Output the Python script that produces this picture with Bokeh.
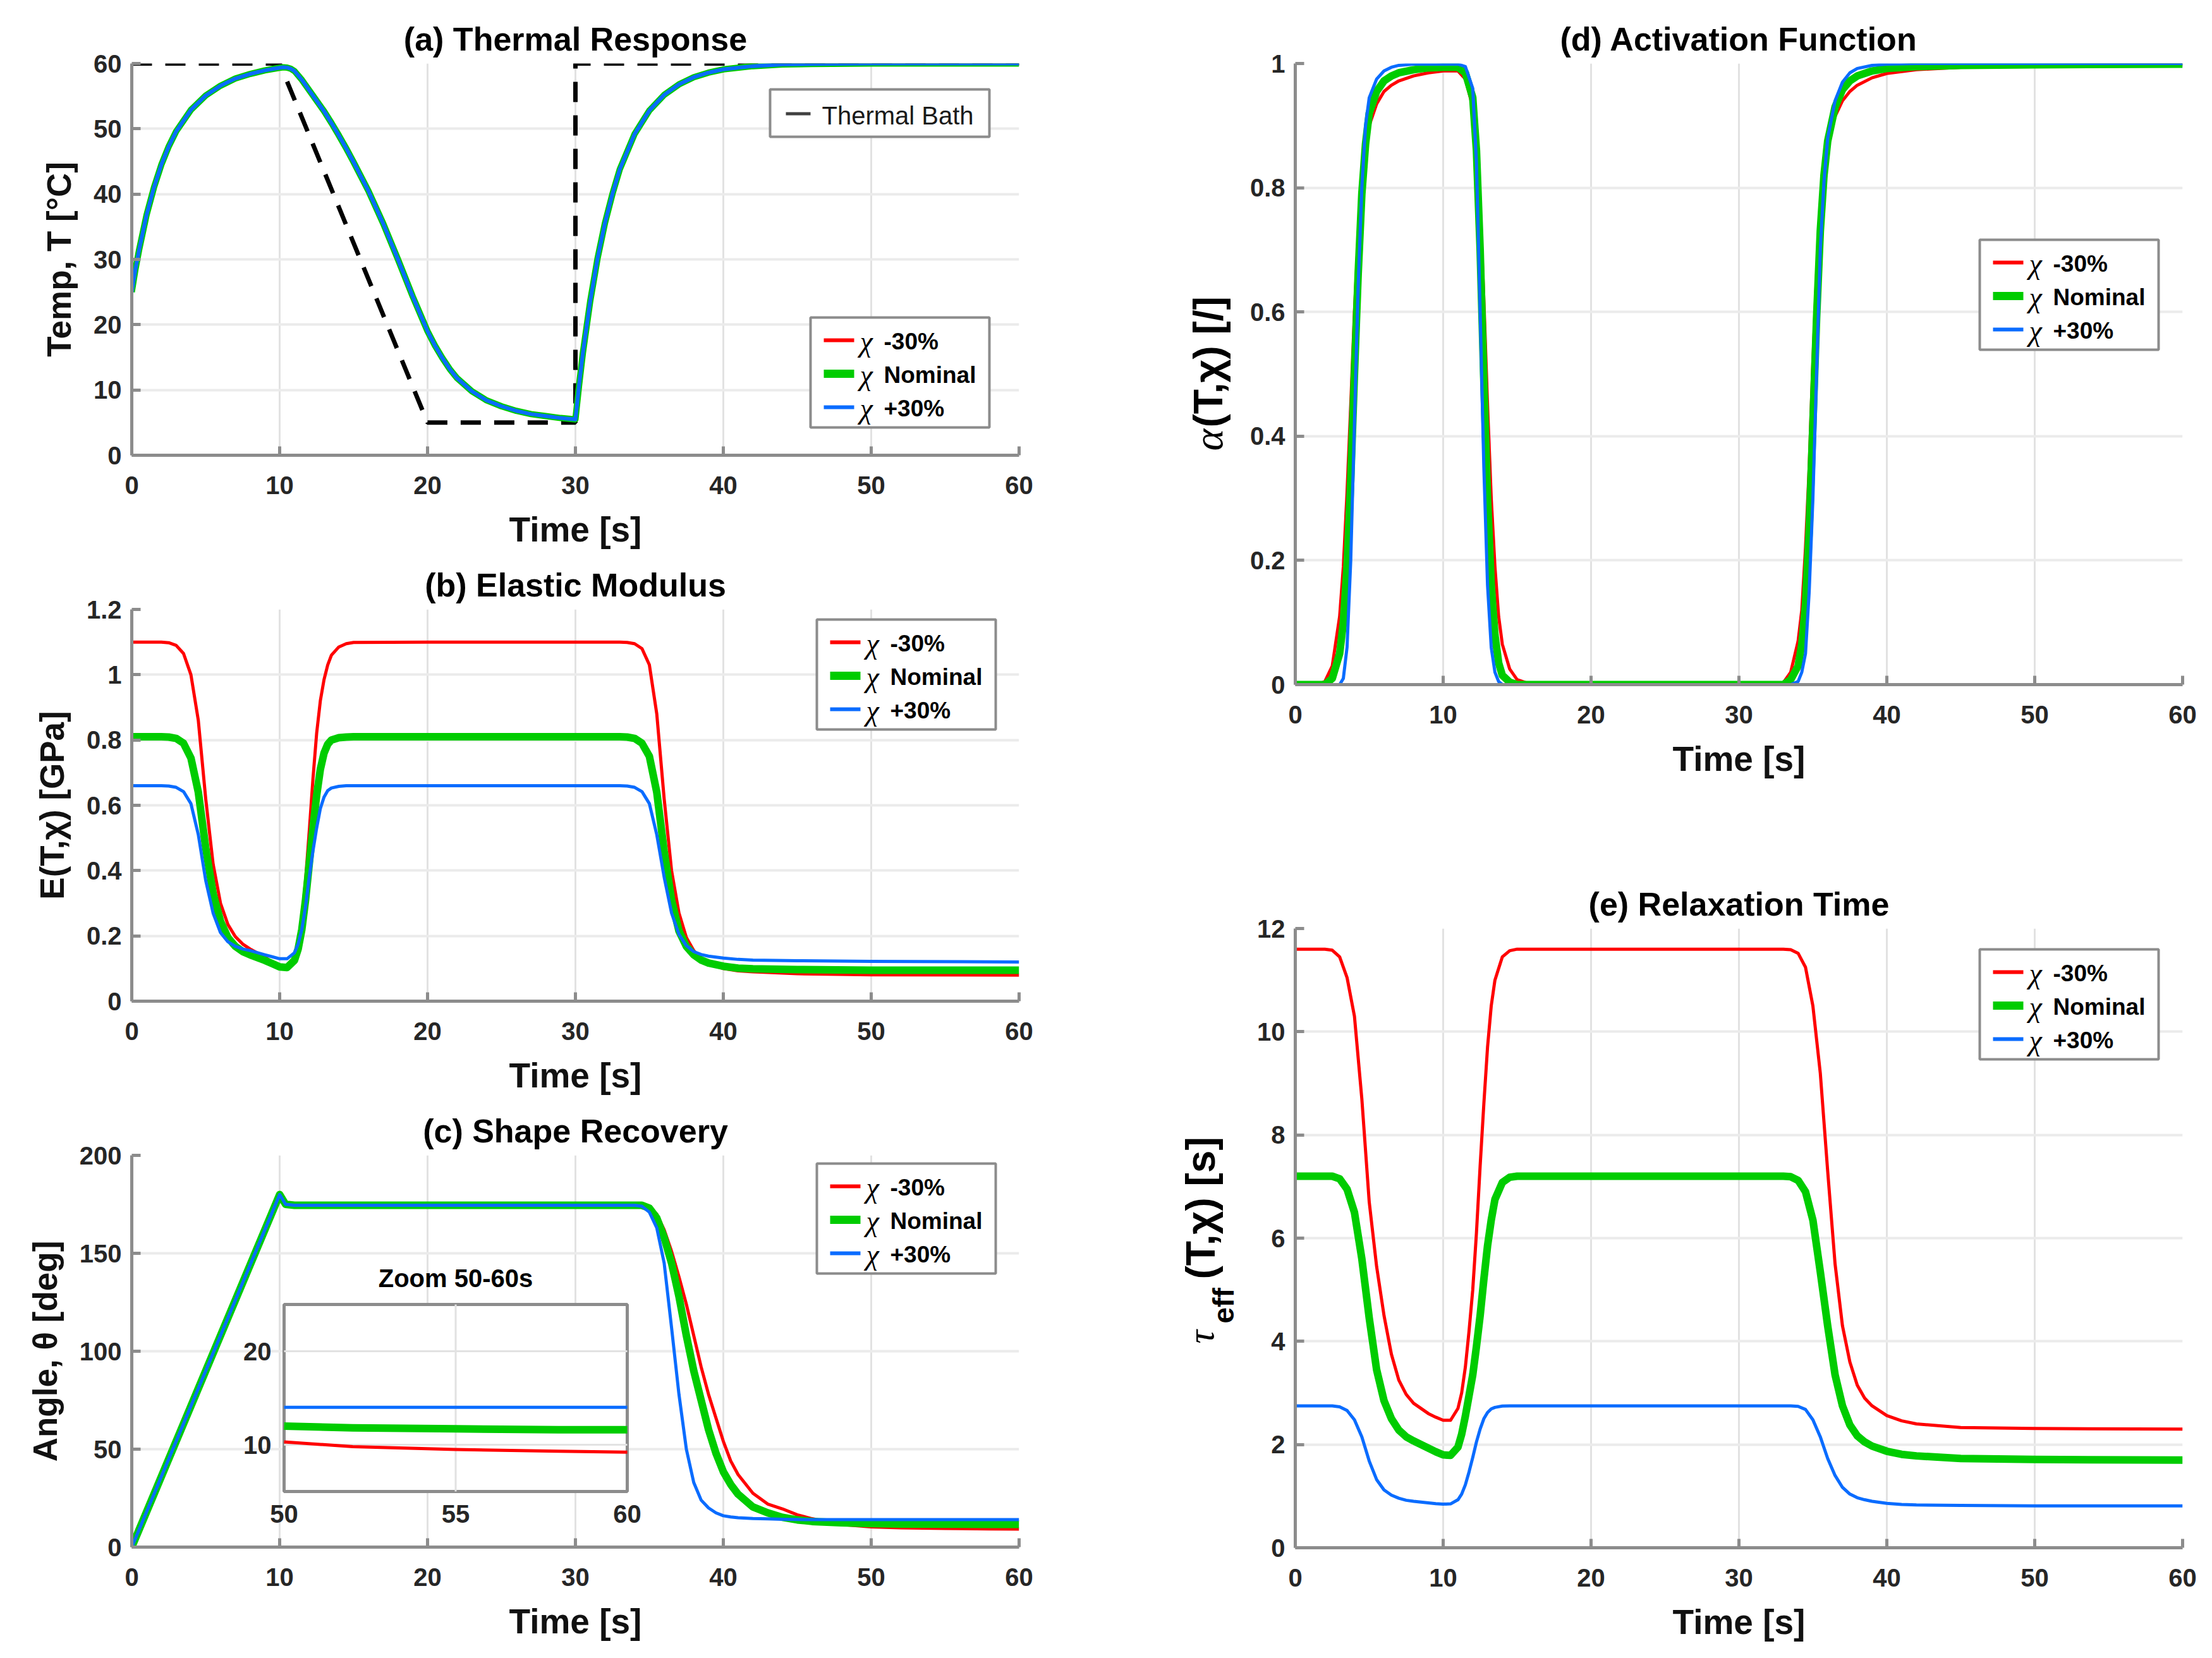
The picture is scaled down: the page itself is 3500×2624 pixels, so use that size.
import math

from bokeh.plotting import figure
from bokeh.models import Range1d, FixedTicker, Label, BoxAnnotation
from bokeh.layouts import row, column
from bokeh.embed import file_html
from bokeh.resources import INLINE

# ------------------------------------------------------------------ data
time_ticks = [0, 10, 20, 30, 40, 50, 60]
series_names = ["-30%", "Nominal", "+30%"]

# (a) thermal response: bath program and specimen temperature [°C]
bath_time = [0, 10, 20, 30, 30, 60]
bath_temp = [60, 60, 5, 5, 60, 60]
temp_time = [0, 0.25, 0.5, 1, 1.5, 2, 2.5, 3, 4, 5,
             6, 7, 8, 9, 9.5, 10, 10.25, 10.5, 10.75, 11,
             11.5, 12, 12.5, 13, 13.5, 14, 14.5, 15, 16, 17,
             18, 19, 20, 20.5, 21, 21.5, 22, 23, 24, 25,
             26, 27, 28, 29, 30, 30.25, 30.5, 31, 31.5, 32,
             32.5, 33, 34, 35, 36, 37, 38, 39, 40, 42,
             44, 46, 50, 60]
temp_lo = [25, 28.5, 31.5, 36.8, 41, 44.5, 47.3, 49.6, 52.9, 55.1,
           56.6, 57.7, 58.4, 58.95, 59.15, 59.35, 59.42, 59.38, 59.2, 58.85,
           57.5, 55.9, 54.3, 52.7, 50.9, 49.0, 47.0, 44.9, 40.5, 35.5,
           30.0, 24.3, 19.0, 16.8, 14.9, 13.2, 11.8, 9.8, 8.4, 7.5,
           6.8, 6.3, 6.0, 5.7, 5.5, 10.8, 15.6, 23.6, 30.2, 35.6,
           40.0, 43.8, 49.2, 52.8, 55.2, 56.8, 57.9, 58.6, 59.1, 59.6,
           59.85, 59.93, 60, 60]
temp_nom = list(temp_lo)   # the three variants coincide on this scale
temp_hi = list(temp_lo)

# (b) elastic modulus [GPa]
E_time = [0, 2, 2.5, 3, 3.5, 4, 4.5, 5, 5.5, 6, 6.5, 7, 7.5, 8,
          9, 9.5, 10, 10.5, 11, 11.25, 11.5, 11.75, 12, 12.25, 12.5, 12.75, 13, 13.25, 13.5,
          14, 14.5, 15, 20, 30, 33, 33.5, 34, 34.5, 35,
          35.5, 36, 36.5, 37, 37.5, 38, 38.5, 39, 40, 41, 42, 45, 50, 60]
E_lo = [1.1, 1.1, 1.098, 1.09, 1.065, 1.0, 0.86, 0.62, 0.42, 0.3, 0.235, 0.198, 0.175, 0.16,
        0.135, 0.12, 0.105, 0.102, 0.13, 0.17, 0.25, 0.37, 0.52, 0.68, 0.82, 0.92, 0.985, 1.03, 1.06,
        1.085, 1.095, 1.099, 1.1, 1.1, 1.1, 1.099, 1.095, 1.08, 1.03,
        0.88, 0.62, 0.4, 0.27, 0.195, 0.155, 0.13, 0.115, 0.1, 0.093, 0.09, 0.084, 0.081, 0.08]
E_nom = [0.81, 0.81, 0.809, 0.805, 0.79, 0.745, 0.64, 0.47, 0.33, 0.245, 0.195, 0.168, 0.152, 0.142,
         0.125, 0.115, 0.105, 0.103, 0.125, 0.16, 0.22, 0.31, 0.42, 0.53, 0.63, 0.71, 0.76, 0.787, 0.8,
         0.807, 0.809, 0.81, 0.81, 0.81, 0.81, 0.809, 0.805, 0.79, 0.75,
         0.64, 0.46, 0.31, 0.215, 0.168, 0.142, 0.126, 0.117, 0.107, 0.101, 0.099, 0.097, 0.095, 0.095]
E_hi = [0.66, 0.66, 0.659, 0.655, 0.642, 0.605, 0.51, 0.37, 0.27, 0.21, 0.182, 0.168, 0.16, 0.155,
        0.142, 0.136, 0.13, 0.13, 0.148, 0.175, 0.22, 0.29, 0.38, 0.46, 0.53, 0.59, 0.625, 0.645, 0.653,
        0.658, 0.66, 0.66, 0.66, 0.66, 0.66, 0.659, 0.655, 0.642, 0.605,
        0.51, 0.38, 0.27, 0.205, 0.17, 0.152, 0.143, 0.138, 0.132, 0.128, 0.126, 0.124, 0.122, 0.12]

# (c) shape recovery angle [deg]
ang_time = [0, 10, 10.4, 11,
            34, 34.5, 35, 35.5, 36, 36.5, 37, 37.5, 38, 38.5, 39, 39.5, 40, 40.5, 41,
            42, 43, 44, 45, 46, 48, 50, 52, 55, 58, 60]
ang_lo = [0, 180, 175, 174.5,
          174.5, 174.5, 173.5, 170, 162, 151, 138, 124, 108, 92, 78, 66, 54, 44, 37,
          27.5, 22, 19.5, 16.5, 14.5, 11.5, 10.3, 9.8, 9.5, 9.3, 9.2]
ang_nom = [0, 180, 175, 174.5,
           174.5, 174.5, 173, 168, 158, 145, 128, 108, 90, 75, 60, 48, 38.5, 32, 27,
           20.5, 17.5, 15.2, 13.9, 13.1, 12.4, 12.0, 11.8, 11.7, 11.6, 11.6]
ang_hi = [0, 180, 175, 174.5,
          174.5, 174, 171, 163, 145, 112, 78, 50, 33, 24, 20, 17.5, 16, 15.4, 15,
          14.6, 14.4, 14.2, 14.1, 14.0, 14.0, 14.0, 14.0, 14.0, 14.0, 14.0]
inset_xlim = [50, 60]
inset_ylim = [5, 25]
inset_xticks = [50, 55, 60]
inset_yticks = [10, 20]

# (d) activation function [-]
act_time = [0, 1.5, 2, 2.5, 3,
            3.25, 3.5, 3.75, 4, 4.25, 4.5, 4.75, 5,
            5.5, 6, 6.5, 7, 8, 9, 10, 11,
            11.5, 12, 12.25, 12.5, 12.75, 13, 13.25, 13.5, 13.75, 14,
            14.5, 15, 16, 20, 30, 33, 33.5,
            34, 34.25, 34.5, 34.75, 35, 35.25, 35.5, 35.75, 36,
            36.5, 37, 37.5, 38, 39, 40, 42, 45, 50, 60]
act_lo = [0, 0, 0.005, 0.03, 0.11,
          0.19, 0.31, 0.45, 0.6, 0.72, 0.81, 0.87, 0.9,
          0.935, 0.955, 0.965, 0.972, 0.98, 0.985, 0.988, 0.988,
          0.975, 0.93, 0.87, 0.77, 0.62, 0.45, 0.3, 0.19, 0.11, 0.065,
          0.025, 0.008, 0, 0, 0, 0.003, 0.02,
          0.07, 0.12, 0.22, 0.35, 0.52, 0.66, 0.76, 0.83, 0.875,
          0.915, 0.94, 0.955, 0.965, 0.977, 0.984, 0.99, 0.994, 0.997, 0.998]
act_nom = [0, 0, 0, 0.01, 0.05,
           0.1, 0.19, 0.33, 0.5, 0.66, 0.79, 0.87, 0.92,
           0.955, 0.972, 0.98, 0.985, 0.99, 0.993, 0.994, 0.994,
           0.985, 0.945, 0.86, 0.7, 0.49, 0.3, 0.16, 0.08, 0.035, 0.015,
           0.004, 0, 0, 0, 0, 0, 0.008,
           0.03, 0.065, 0.13, 0.25, 0.42, 0.59, 0.73, 0.82, 0.875,
           0.93, 0.958, 0.972, 0.98, 0.988, 0.992, 0.995, 0.997, 0.998, 0.999]
act_hi = [0, 0, 0, 0, 0,
          0.01, 0.06, 0.2, 0.42, 0.64, 0.8, 0.9, 0.945,
          0.975, 0.988, 0.994, 0.997, 0.999, 0.999, 0.999, 0.999,
          0.995, 0.96, 0.84, 0.6, 0.35, 0.16, 0.06, 0.02, 0.005, 0,
          0, 0, 0, 0, 0, 0, 0,
          0.005, 0.02, 0.05, 0.15, 0.3, 0.5, 0.7, 0.81, 0.88,
          0.94, 0.97, 0.985, 0.992, 0.997, 0.999, 1, 1, 1, 1]

# (e) effective relaxation time [s]
tau_time = list(E_time)
tau_lo = [11.6, 11.6, 11.58, 11.45, 11.05, 10.3, 8.7, 6.7, 5.45, 4.5, 3.75, 3.25, 2.97, 2.8,
          2.6, 2.53, 2.47, 2.47, 2.7, 3.0, 3.5, 4.2, 5.0, 6.1, 7.4, 8.6, 9.7, 10.5, 11.0,
          11.45, 11.57, 11.6, 11.6, 11.6, 11.6, 11.59, 11.52, 11.25, 10.5,
          9.2, 7.3, 5.5, 4.3, 3.6, 3.15, 2.9, 2.75, 2.56, 2.46, 2.4, 2.33, 2.31, 2.3]
tau_nom = [7.2, 7.2, 7.2, 7.15, 6.95, 6.5, 5.6, 4.45, 3.45, 2.85, 2.5, 2.28, 2.15, 2.07,
           1.93, 1.86, 1.8, 1.79, 1.95, 2.2, 2.55, 2.95, 3.35, 3.9, 4.5, 5.2, 5.85, 6.35, 6.75,
           7.08, 7.18, 7.2, 7.2, 7.2, 7.2, 7.19, 7.12, 6.9, 6.35,
           5.35, 4.3, 3.35, 2.75, 2.38, 2.17, 2.05, 1.97, 1.87, 1.81, 1.78, 1.73, 1.71, 1.7]
tau_hi = [2.75, 2.75, 2.75, 2.73, 2.66, 2.48, 2.15, 1.68, 1.32, 1.12, 1.02, 0.96, 0.92, 0.9,
          0.87, 0.855, 0.845, 0.85, 0.93, 1.04, 1.22, 1.47, 1.75, 2.05, 2.3, 2.5, 2.62, 2.69, 2.72,
          2.745, 2.75, 2.75, 2.75, 2.75, 2.75, 2.75, 2.74, 2.68, 2.48,
          2.15, 1.73, 1.4, 1.17, 1.04, 0.97, 0.93, 0.9, 0.86, 0.84, 0.83, 0.82, 0.81, 0.81]

# ------------------------------------------------------------------ style
SANS = "Liberation Sans"
SERIF = "Liberation Serif"
COLORS = ["#ff0000", "#00cc00", "#0a6cff"]
WIDTHS = [5, 12, 5]
AXIS_GRAY = "#8c8c8c"
TICK_TXT = "#262626"
ROT = dict(angle=math.pi / 2)


def make_panel(title, y_lo, y_hi, yticks, ylabels, ylabel, frame_h, top, bottom,
               left, right, frame_w=1404):
    p = figure(title=title, x_range=Range1d(0, 60), y_range=Range1d(y_lo, y_hi),
               frame_width=frame_w, frame_height=frame_h,
               min_border_left=left, min_border_right=right,
               min_border_top=top, min_border_bottom=bottom,
               output_backend="svg", toolbar_location=None)
    p.outline_line_color = None
    p.background_fill_color = "white"
    p.border_fill_color = "white"
    p.title.align = "center"
    p.title.text_font = SANS
    p.title.text_font_size = "52px"
    p.title.text_font_style = "bold"
    p.title.text_color = "black"
    p.title.standoff = 20

    p.xaxis.ticker = FixedTicker(ticks=time_ticks)
    p.yaxis.ticker = FixedTicker(ticks=yticks)
    if ylabels is not None:
        p.yaxis.major_label_overrides = dict(zip(yticks, ylabels))
    p.xaxis.axis_label = "Time [s]"
    p.yaxis.axis_label = ylabel
    for ax in list(p.xaxis) + list(p.yaxis):
        ax.axis_line_color = AXIS_GRAY
        ax.axis_line_width = 5
        ax.major_tick_line_color = AXIS_GRAY
        ax.major_tick_line_width = 5
        ax.major_tick_in = 14
        ax.major_tick_out = 0
        ax.minor_tick_line_color = None
        ax.major_label_text_font = SANS
        ax.major_label_text_font_size = "40px"
        ax.major_label_text_font_style = "bold"
        ax.major_label_text_color = TICK_TXT
        ax.axis_label_text_font = SANS
        ax.axis_label_text_font_style = "bold"
        ax.axis_label_text_color = "#111111"
    p.xaxis.axis_label_text_font_size = "55px"
    p.yaxis.axis_label_text_font_size = "53px"
    p.xaxis.major_label_standoff = 33
    p.xaxis.axis_label_standoff = 22
    p.yaxis.major_label_standoff = 16
    p.yaxis.axis_label_standoff = 22

    p.xgrid.grid_line_color = "#e2e2e2"
    p.xgrid.grid_line_width = 3
    p.ygrid.grid_line_color = "#ebebeb"
    p.ygrid.grid_line_width = 4
    return p


def label_strip(width, height):
    # plain canvas beside a panel, carrying its composed axis title;
    # its frame lines up with the neighbouring panel's frame
    s = figure(frame_width=width, frame_height=height,
               x_range=Range1d(0, 1), y_range=Range1d(0, 1),
               min_border=0, min_border_left=0, min_border_right=0,
               min_border_top=0, min_border_bottom=0,
               x_axis_location=None, y_axis_location=None,
               output_backend="svg", toolbar_location=None)
    s.outline_line_color = None
    s.xgrid.visible = False
    s.ygrid.visible = False
    return s


def screen_box(p, frame, l, t, r, b, **kw):
    fl, fb = frame
    p.add_layout(BoxAnnotation(left=l - fl, right=r - fl, top=fb - t, bottom=fb - b,
                               left_units="screen", right_units="screen",
                               top_units="screen", bottom_units="screen", **kw))


def screen_label(p, frame, x, y, text, **kw):
    fl, fb = frame
    opts = dict(text_baseline="middle", text_align="left", text_color="black")
    opts.update(kw)
    p.add_layout(Label(x=x - fl, y=fb - y, x_units="screen", y_units="screen",
                       text=text, **opts))


def chi_legend(p, frame, box_left, box_top):
    W, H = 283, 174
    screen_box(p, frame, box_left, box_top, box_left + W, box_top + H,
               fill_color="white", fill_alpha=1, line_color=AXIS_GRAY,
               line_alpha=1, line_width=4)
    for i, (name, color, w) in enumerate(zip(series_names, COLORS, [6, 13, 6])):
        cy = box_top + 36 + 53 * i
        screen_box(p, frame, box_left + 21, cy - w / 2, box_left + 69, cy + w / 2,
                   fill_color=color, fill_alpha=1, line_color=None)
        screen_label(p, frame, box_left + 78, box_top + 38 + 53 * i, "χ",
                     text_font=SERIF, text_font_style="italic", text_font_size="46px")
        screen_label(p, frame, box_left + 116, box_top + 38 + 53 * i, name,
                     text_font=SANS, text_font_style="bold", text_font_size="37px")


def add_series(p, t, ys, widths=WIDTHS, **kw):
    for y, c, w in zip(ys, COLORS, widths):
        p.line(t, y, line_color=c, line_width=w, line_join="round", **kw)


# ------------------------------------------------------------------ (a)
FA = (208, 720)
pa = make_panel("(a) Thermal Response", 0, 60, [0, 10, 20, 30, 40, 50, 60], None,
                "Temp, T [°C]", 620, 100, 164, 208, 88)
pa.line(bath_time, bath_temp, line_color="black", line_width=7, line_dash="32 21")
add_series(pa, temp_time, [temp_lo, temp_nom, temp_hi], widths=[5, 10, 6])
screen_box(pa, FA, 1218, 141, 1565, 216, fill_color="white", fill_alpha=1,
           line_color=AXIS_GRAY, line_alpha=1, line_width=4)
screen_box(pa, FA, 1243, 177, 1282, 182, fill_color="#404040", fill_alpha=1,
           line_color=None)
screen_label(pa, FA, 1300, 182, "Thermal Bath", text_font=SANS,
             text_font_size="40px", text_color="#1a1a1a")
chi_legend(pa, FA, 1282, 502)

# ------------------------------------------------------------------ (b)
FB = (208, 1584)
pb = make_panel("(b) Elastic Modulus", 0, 1.2, [0, 0.2, 0.4, 0.6, 0.8, 1, 1.2],
                ["0", "0.2", "0.4", "0.6", "0.8", "1", "1.2"],
                "E(T,χ) [GPa]", 620, 80, 164, 208, 88)
add_series(pb, E_time, [E_lo, E_nom, E_hi])
chi_legend(pb, FB, 1292, 980)

# ------------------------------------------------------------------ (c)
FC = (208, 2448)
pc = make_panel("(c) Shape Recovery", 0, 200, [0, 50, 100, 150, 200], None,
                "Angle, θ [deg]", 620, 80, 164, 208, 88)
add_series(pc, ang_time, [ang_lo, ang_nom, ang_hi])
chi_legend(pc, FC, 1292, 1841)

# inset axes for 50-60 s, mapped onto a box inside the frame
box_l, box_r, box_t, box_b = 449, 992, 2064, 2360
fl, fb = FC
ftop = fb - 620
fright = fl + 1404
sx = (box_r - box_l) / (inset_xlim[1] - inset_xlim[0])
sy = (box_b - box_t) / (inset_ylim[1] - inset_ylim[0])
ix0 = inset_xlim[0] - (box_l - fl) / sx
iy0 = inset_ylim[0] - (fb - box_b) / sy
pc.extra_x_ranges = {"ix": Range1d(ix0, ix0 + (fright - fl) / sx)}
pc.extra_y_ranges = {"iy": Range1d(iy0, iy0 + (fb - ftop) / sy)}
pc.add_layout(BoxAnnotation(left=inset_xlim[0], right=inset_xlim[1],
                            bottom=inset_ylim[0], top=inset_ylim[1],
                            x_range_name="ix", y_range_name="iy",
                            fill_color="white", fill_alpha=1, line_color=AXIS_GRAY,
                            line_alpha=1, line_width=5))
inner_x = [v for v in inset_xticks if inset_xlim[0] < v < inset_xlim[1]]
inner_y = [v for v in inset_yticks if inset_ylim[0] < v < inset_ylim[1]]
pc.segment(x0=inner_x, y0=[inset_ylim[0]] * len(inner_x), x1=inner_x,
           y1=[inset_ylim[1]] * len(inner_x), line_color="#e2e2e2", line_width=3,
           x_range_name="ix", y_range_name="iy", level="overlay")
pc.segment(x0=[inset_xlim[0]] * len(inner_y), y0=inner_y,
           x1=[inset_xlim[1]] * len(inner_y), y1=inner_y, line_color="#e2e2e2",
           line_width=3, x_range_name="ix", y_range_name="iy", level="overlay")
k0 = ang_time.index(inset_xlim[0])
add_series(pc, ang_time[k0:], [ang_lo[k0:], ang_nom[k0:], ang_hi[k0:]],
           x_range_name="ix", y_range_name="iy", level="overlay")
for v in inset_xticks:
    pc.add_layout(Label(x=v, y=inset_ylim[0], x_range_name="ix", y_range_name="iy",
                        y_offset=-35, text=str(v), text_align="center",
                        text_baseline="middle", text_font=SANS, text_font_size="40px",
                        text_font_style="bold", text_color=TICK_TXT))
for v in inset_yticks:
    pc.add_layout(Label(x=inset_xlim[0], y=v, x_range_name="ix", y_range_name="iy",
                        x_offset=-20, text=str(v), text_align="right",
                        text_baseline="middle", text_font=SANS, text_font_size="40px",
                        text_font_style="bold", text_color=TICK_TXT))
pc.add_layout(Label(x=(inset_xlim[0] + inset_xlim[1]) / 2, y=inset_ylim[1],
                    x_range_name="ix", y_range_name="iy", y_offset=42,
                    text="Zoom 50-60s", text_align="center", text_baseline="middle",
                    text_font=SANS, text_font_size="40px", text_font_style="bold",
                    text_color="black"))

# ------------------------------------------------------------------ (d)
STRIP_W = 265
FD = (2049, 1083)
pd_ = make_panel("(d) Activation Function", 0, 1, [0, 0.2, 0.4, 0.6, 0.8, 1],
                 ["0", "0.2", "0.4", "0.6", "0.8", "1"], None, 983, 100, 306,
                 2049 - 1700 - STRIP_W, 47)
add_series(pd_, act_time, [act_lo, act_nom, act_hi])
chi_legend(pd_, FD, 3132, 379)

ld = label_strip(STRIP_W, 983)
LD = (1700, 1083)
screen_label(ld, LD, 1911, 713, "α", text_font=SERIF, text_font_style="italic",
             text_font_size="66px", **ROT)
screen_label(ld, LD, 1911, 676, "(T,χ) [/]", text_font=SANS, text_font_style="bold",
             text_font_size="64px", **ROT)

# ------------------------------------------------------------------ (e)
FE = (2049, 2449)
pe = make_panel("(e) Relaxation Time", 0, 12, [0, 2, 4, 6, 8, 10, 12], None, None,
                980, 80, 164, 2049 - 1700 - STRIP_W, 47)
add_series(pe, tau_time, [tau_lo, tau_nom, tau_hi])
chi_legend(pe, FE, 3132, 1502)

le = label_strip(STRIP_W, 980)
LE = (1700, 2449)
screen_label(le, LE, 1899, 2126, "τ", text_font=SERIF, text_font_style="italic",
             text_font_size="60px", **ROT)
screen_label(le, LE, 1935, 2094, "eff", text_font=SANS, text_font_style="bold",
             text_font_size="46px", **ROT)
screen_label(le, LE, 1899, 2024, "(T,χ) [s]", text_font=SANS, text_font_style="bold",
             text_font_size="64px", **ROT)

layout = row(column(pa, pb, pc), column(row(ld, pd_), row(le, pe)))
open("out.html", "w").write(file_html(layout, INLINE))
